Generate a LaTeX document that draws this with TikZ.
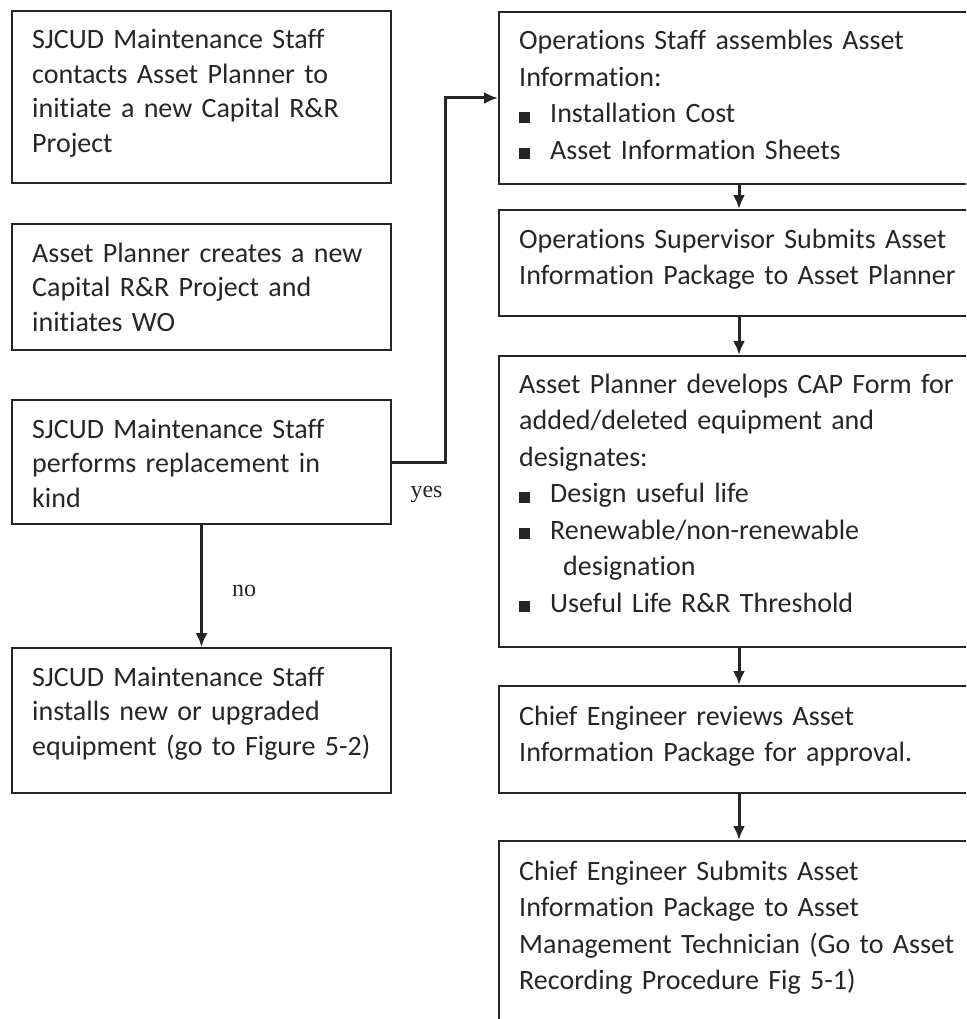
\documentclass[tikz,border=0pt]{standalone}
\usepackage{fontspec}
\setmainfont{Carlito}[RawFeature={-liga;-clig}]
\newfontfamily\answerfont{Liberation Serif}
\usepackage{tikz}
\usetikzlibrary{calc,positioning,arrows.meta}
\definecolor{inkgray}{HTML}{262626}

\newcommand{\sqitem}{\makebox[31pt][l]{\rule{11pt}{11pt}}}

\begin{document}
\begin{tikzpicture}[x=1pt, y=-1pt, >={Latex[length=14pt,width=12pt]},
    box/.style={draw=inkgray, line width=2pt, rectangle, anchor=north west, inner sep=0pt},
    leftbox/.style={box, minimum width=379pt},
    rightbox/.style={box, minimum width=480pt},
    boxtext/.style={anchor=base west, inner sep=0pt, text width=450pt, align=left, text=inkgray},
    lefttext/.style={boxtext, font=\fontsize{28}{34.5}\selectfont},
    righttext/.style={boxtext, font=\fontsize{28}{36.5}\selectfont},
    flow/.style={draw=inkgray, line width=3pt, ->},
    answer/.style={text=inkgray, inner sep=0pt, font=\answerfont\fontsize{24}{28}\selectfont}]
      % Page size of the reference
      \useasboundingbox (0,0) rectangle (966,1019);
      \clip (0,0) rectangle (966,1019);

      % Left column
      \node[leftbox, minimum height=172pt] (L1) at (11,10) {};
      \node[lefttext] (L1t) at ($(L1.north west)+(21,39)$)
        {SJCUD Maintenance Staff\\contacts Asset Planner to\\initiate a new Capital R\&R\\Project};

      \node[leftbox, minimum height=126pt] (L2) at (11,223) {};
      \node[lefttext] (L2t) at ($(L2.north west)+(21,39)$)
        {Asset Planner creates a new\\Capital R\&R Project and\\initiates WO};

      \node[leftbox, minimum height=124pt] (L3) at (11,399) {};
      \node[lefttext] (L3t) at ($(L3.north west)+(21,39)$)
        {SJCUD Maintenance Staff\\performs replacement in\\kind};

      \node[leftbox, minimum height=145pt] (L4) at (11,647) {};
      \node[lefttext] (L4t) at ($(L4.north west)+(21,39)$)
        {SJCUD Maintenance Staff\\installs new or upgraded\\equipment (go to Figure 5-2)};

      % Right column (runs past the page edge)
      \node[rightbox, minimum height=172pt] (R1) at (498,11) {};
      \node[righttext] (R1t) at ($(R1.north west)+(21,39)$)
        {Operations Staff assembles Asset\\Information:\\\sqitem Installation Cost\\\sqitem Asset Information Sheets};

      \node[rightbox, minimum height=106pt] (R2) at (498,209) {};
      \node[righttext] (R2t) at ($(R2.north west)+(21,39)$)
        {Operations Supervisor Submits Asset\\Information Package to Asset Planner};

      \node[rightbox, minimum height=291pt] (R3) at (498,355) {};
      \node[righttext] (R3t) at ($(R3.north west)+(21,38)$)
        {Asset Planner develops CAP Form for\\added/deleted equipment and\\designates:\\\sqitem Design useful life\\\sqitem Renewable/non-renewable\\\hspace*{44pt}designation\\\sqitem Useful Life R\&R Threshold};

      \node[rightbox, minimum height=107pt] (R4) at (498,685) {};
      \node[righttext] (R4t) at ($(R4.north west)+(21,40)$)
        {Chief Engineer reviews Asset\\Information Package for approval.};

      \node[rightbox, minimum height=220pt] (R5) at (498,840) {};
      \node[righttext] (R5t) at ($(R5.north west)+(21,40)$)
        {Chief Engineer Submits Asset\\Information Package to Asset\\Management Technician (Go to Asset\\Recording Procedure Fig 5-1)};

      % Connectors
      \draw[flow] (L3.east) -- node[answer, below=23pt, xshift=8pt] (yes) {yes} ++(53,0) |- (R1.west);
      \draw[flow] (L3.south) -- node[answer, right=29pt, yshift=-5pt] (no) {no} (L4.north);
      \draw[flow] (R1.south) -- (R2.north);
      \draw[flow] (R2.south) -- (R3.north);
      \draw[flow] (R3.south) -- (R4.north);
      \draw[flow] (R4.south) -- (R5.north);
    \end{tikzpicture}
\end{document}
